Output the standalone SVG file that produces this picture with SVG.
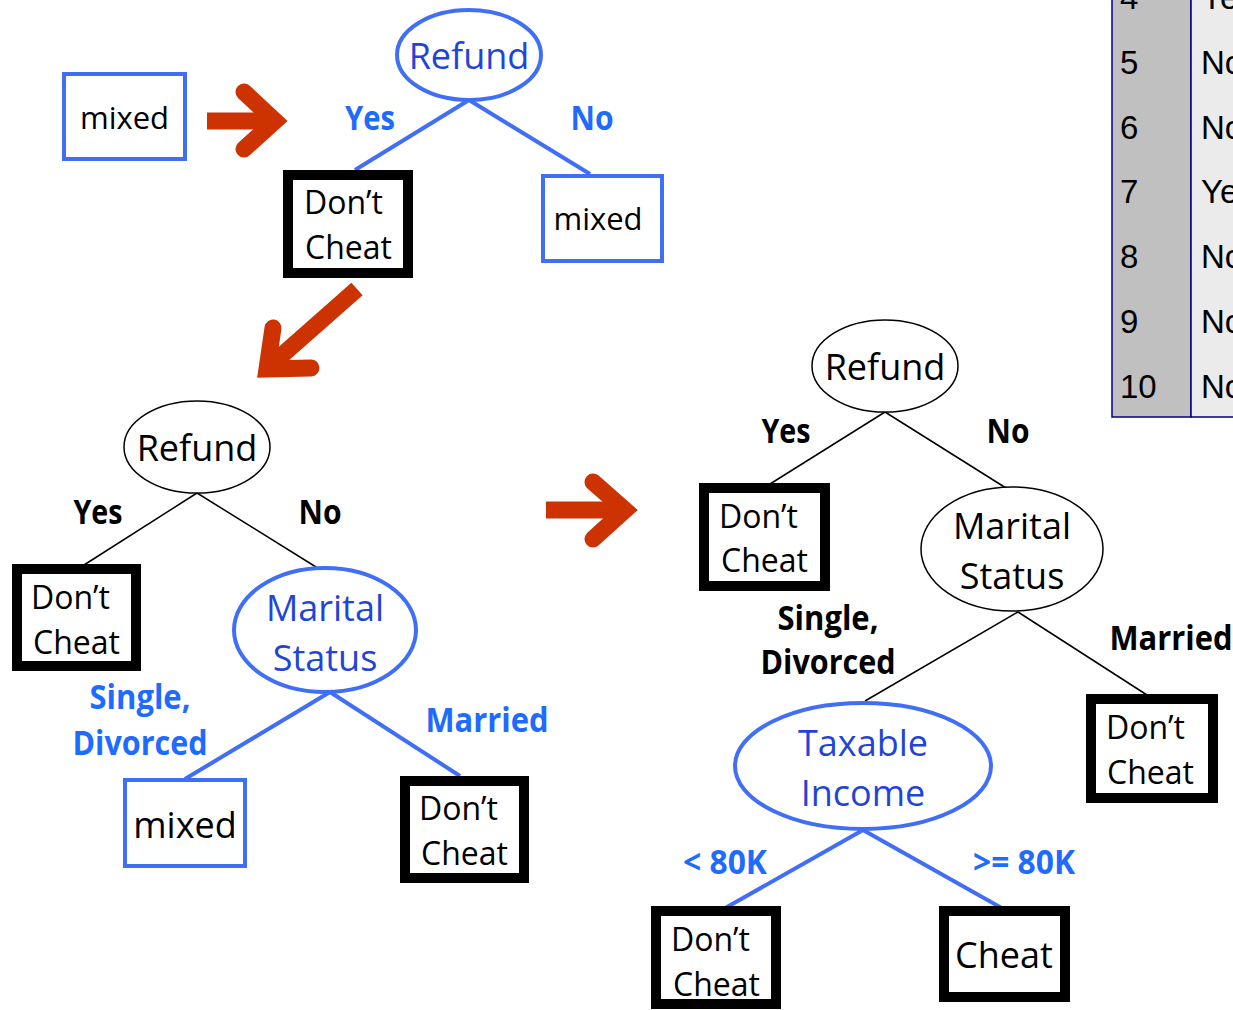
<svg xmlns="http://www.w3.org/2000/svg" width="1233" height="1010" viewBox="0 0 1233 1010">
<style>
  text { font-family: "Open Sans", "Noto Sans", sans-serif; }
  .leaf { fill: #ffffff; stroke: #000000; stroke-width: 10; }
  .mixed { fill: #ffffff; stroke: #416ef6; stroke-width: 4; }
  .bnode { fill: #ffffff; stroke: #416ef6; stroke-width: 4; }
  .knode { fill: #ffffff; stroke: #000000; stroke-width: 1.5; }
  .bedge { stroke: #416ef6; stroke-width: 4; fill: none; }
  .kedge { stroke: #000000; stroke-width: 1.5; fill: none; }
  .t { font-size: 32px; fill: #000000; }
  .tn { font-size: 36px; fill: #000000; text-anchor: middle; }
  .tb { font-size: 36px; fill: #1f45d8; text-anchor: middle; }
  .lb { font-size: 34px; font-weight: bold; fill: #1f6bff; text-anchor: middle; }
  .lk { font-size: 34px; font-weight: bold; fill: #000000; text-anchor: middle; }
  .arrowshaft { stroke: #cc3300; stroke-width: 17; fill: none; stroke-linecap: butt; }
  .arrowhead { stroke: #cc3300; stroke-width: 17; fill: none; stroke-linecap: round; stroke-linejoin: miter; stroke-miterlimit: 4; }
  .tbl { font-family: "Liberation Sans", Arial, sans-serif; font-size: 33px; fill: #000000; }
</style>

<!-- data table fragment (top right) -->
<g id="table">
  <rect x="1112" y="-4" width="79" height="421" fill="#c0c0c0" stroke="#000080" stroke-width="1.5"/>
  <rect x="1191" y="-4" width="50" height="421" fill="#ebebeb" stroke="#000080" stroke-width="1.5"/>
  <text class="tbl" x="1120" y="9">4</text>
  <text class="tbl" x="1120" y="74">5</text>
  <text class="tbl" x="1120" y="139">6</text>
  <text class="tbl" x="1120" y="203">7</text>
  <text class="tbl" x="1120" y="268">8</text>
  <text class="tbl" x="1120" y="333">9</text>
  <text class="tbl" x="1120" y="398">10</text>
  <text class="tbl" x="1201" y="9">Yes</text>
  <text class="tbl" x="1201" y="74">No</text>
  <text class="tbl" x="1201" y="139">No</text>
  <text class="tbl" x="1201" y="203">Yes</text>
  <text class="tbl" x="1201" y="268">No</text>
  <text class="tbl" x="1201" y="333">No</text>
  <text class="tbl" x="1201" y="398">No</text>
</g>

<!-- connectors -->
<g id="connectors">
  <path class="bedge" d="M469,100 L355,170"/>
  <path class="bedge" d="M469,100 L590,174"/>
  <path class="kedge" d="M197,493 L84,565"/>
  <path class="kedge" d="M197,493 L316,567"/>
  <path class="bedge" d="M330,692 L185,779"/>
  <path class="bedge" d="M330,692 L460,776"/>
  <path class="kedge" d="M885,412 L770,484"/>
  <path class="kedge" d="M885,412 L1006,488"/>
  <path class="kedge" d="M1018,612 L865,701"/>
  <path class="kedge" d="M1018,612 L1147,695"/>
  <path class="bedge" d="M863,830 L720,911"/>
  <path class="bedge" d="M863,830 L1007,911"/>
</g>

<!-- edge labels -->
<g id="edge-labels">
  <text class="lb" x="370" y="130" textLength="50" lengthAdjust="spacingAndGlyphs">Yes</text>
  <text class="lb" x="592" y="130" textLength="43" lengthAdjust="spacingAndGlyphs">No</text>
  <text class="lk" x="98" y="524" textLength="49" lengthAdjust="spacingAndGlyphs">Yes</text>
  <text class="lk" x="320" y="524" textLength="43" lengthAdjust="spacingAndGlyphs">No</text>
  <text class="lb" x="140" y="709" textLength="101" lengthAdjust="spacingAndGlyphs">Single,</text>
  <text class="lb" x="140" y="755" textLength="135" lengthAdjust="spacingAndGlyphs">Divorced</text>
  <text class="lb" x="487" y="732" textLength="123" lengthAdjust="spacingAndGlyphs">Married</text>
  <text class="lk" x="786" y="443" textLength="49" lengthAdjust="spacingAndGlyphs">Yes</text>
  <text class="lk" x="1008" y="443" textLength="43" lengthAdjust="spacingAndGlyphs">No</text>
  <text class="lk" x="828" y="630" textLength="101" lengthAdjust="spacingAndGlyphs">Single,</text>
  <text class="lk" x="828" y="674" textLength="135" lengthAdjust="spacingAndGlyphs">Divorced</text>
  <text class="lk" x="1171" y="650" textLength="123" lengthAdjust="spacingAndGlyphs">Married</text>
  <text class="lb" x="725" y="874" textLength="84" lengthAdjust="spacingAndGlyphs">&lt; 80K</text>
  <text class="lb" x="1024" y="874" textLength="102" lengthAdjust="spacingAndGlyphs">&gt;= 80K</text>
</g>

<!-- red progression arrows -->
<g id="arrow-1">
  <path class="arrowshaft" d="M207,121 L268,121"/>
  <path class="arrowhead" d="M244,92 L275,121 L244,149"/>
</g>
<g id="arrow-2">
  <path class="arrowshaft" d="M357,289 L272,364"/>
  <path class="arrowhead" d="M273,328 L267,369 L311,368"/>
</g>
<g id="arrow-3">
  <path class="arrowshaft" d="M546,510 L617,510"/>
  <path class="arrowhead" d="M593,482 L625,510 L593,539"/>
</g>

<!-- stage 1 -->
<g id="mixed-start">
  <rect class="mixed" x="64" y="74" width="121" height="85"/>
  <text class="t" x="124.5" y="129" text-anchor="middle" style="font-size:31px">mixed</text>
</g>
<g id="refund-1">
  <ellipse class="bnode" cx="469" cy="55" rx="72" ry="45"/>
  <text class="tb" x="469" y="69">Refund</text>
</g>
<g id="leaf-1">
  <rect class="leaf" x="288" y="175" width="120" height="98"/>
  <text class="t" x="304" y="214">Don’t</text>
  <text class="t" x="305" y="259">Cheat</text>
</g>
<g id="mixed-1">
  <rect class="mixed" x="543" y="176" width="119" height="85"/>
  <text class="t" x="598" y="230" text-anchor="middle" style="font-size:31px">mixed</text>
</g>

<!-- stage 2 -->
<g id="refund-2">
  <ellipse class="knode" cx="197" cy="447" rx="73" ry="46"/>
  <text class="tn" x="197" y="461">Refund</text>
</g>
<g id="leaf-2">
  <rect class="leaf" x="17" y="569" width="119" height="97"/>
  <text class="t" x="31" y="609">Don’t</text>
  <text class="t" x="33" y="654">Cheat</text>
</g>
<g id="marital-2">
  <ellipse class="bnode" cx="325" cy="630" rx="91" ry="62"/>
  <text class="tb" x="325" y="621">Marital</text>
  <text class="tb" x="325" y="671">Status</text>
</g>
<g id="mixed-2">
  <rect class="mixed" x="125" y="780" width="120" height="86"/>
  <text class="t" x="185" y="838" text-anchor="middle" style="font-size:36px">mixed</text>
</g>
<g id="leaf-3">
  <rect class="leaf" x="405" y="781" width="119" height="97"/>
  <text class="t" x="419" y="820">Don’t</text>
  <text class="t" x="421" y="865">Cheat</text>
</g>

<!-- stage 3 -->
<g id="refund-3">
  <ellipse class="knode" cx="885" cy="366" rx="73" ry="46"/>
  <text class="tn" x="885" y="380">Refund</text>
</g>
<g id="leaf-4">
  <rect class="leaf" x="704" y="488" width="121" height="98"/>
  <text class="t" x="719" y="528">Don’t</text>
  <text class="t" x="721" y="572">Cheat</text>
</g>
<g id="marital-3">
  <ellipse class="knode" cx="1012" cy="549" rx="91" ry="62"/>
  <text class="tn" x="1012" y="539">Marital</text>
  <text class="tn" x="1012" y="589">Status</text>
</g>
<g id="leaf-5">
  <rect class="leaf" x="1091" y="699" width="122" height="99"/>
  <text class="t" x="1106" y="739">Don’t</text>
  <text class="t" x="1107" y="784">Cheat</text>
</g>
<g id="taxable-3">
  <ellipse class="bnode" cx="863" cy="766" rx="128" ry="63"/>
  <text class="tb" x="863" y="756">Taxable</text>
  <text class="tb" x="863" y="806">Income</text>
</g>
<g id="leaf-6">
  <rect class="leaf" x="656" y="911" width="120" height="93"/>
  <text class="t" x="671" y="951">Don’t</text>
  <text class="t" x="673" y="996">Cheat</text>
</g>
<g id="leaf-7">
  <rect class="leaf" x="944" y="911" width="121" height="86"/>
  <text class="t" x="1004" y="968" text-anchor="middle" style="font-size:36px">Cheat</text>
</g>
</svg>
